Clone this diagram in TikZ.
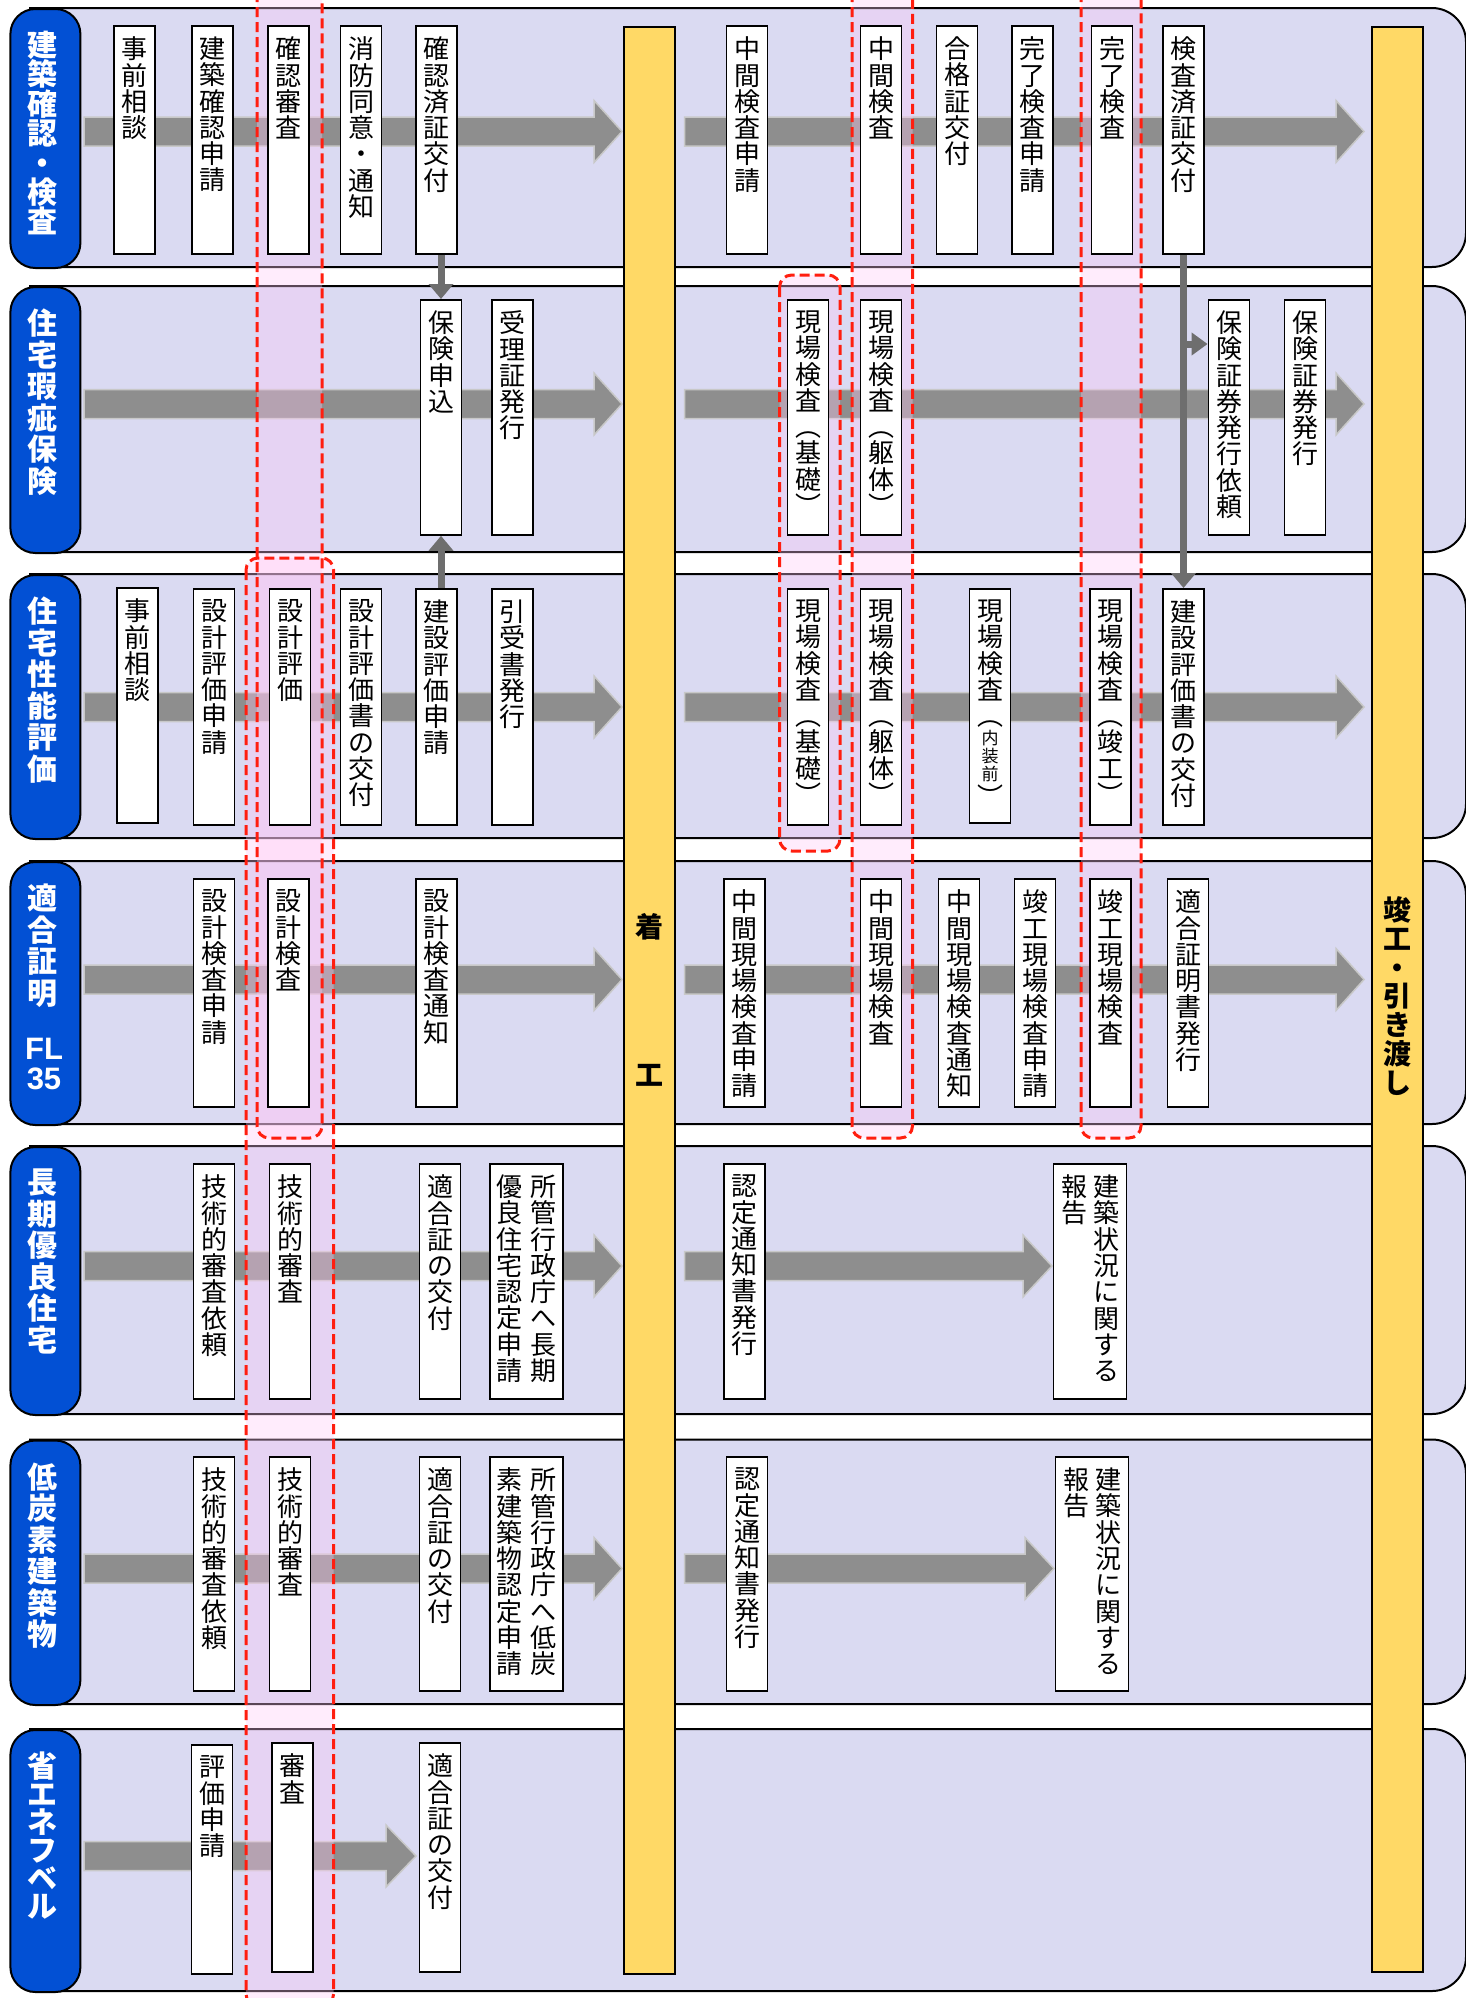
\documentclass[tikz,border=0pt]{standalone}
\usepackage{fontspec}
\setmainfont{Noto Sans CJK JP}
\newfontfamily\lsans{Liberation Sans}
\usetikzlibrary{arrows.meta,calc}
\definecolor{bandc}{RGB}{218,218,242}
\definecolor{labc}{RGB}{2,80,212}
\definecolor{yelc}{RGB}{255,217,102}
\definecolor{arrc}{RGB}{142,142,142}
\definecolor{arre}{RGB}{200,200,200}
\definecolor{conc}{RGB}{110,110,110}
\definecolor{redc}{RGB}{255,30,15}
\definecolor{pinkc}{RGB}{255,200,245}
\makeatletter
\newcommand\vstk[2][1.01]{\vtop{\baselineskip=#1em\lineskiplimit=-100pt\lineskip=0pt\vst@#2\vst@end}}
\def\vst@#1{\ifx#1\vst@end\else\hbox to 1em{\hss#1\hss}\expandafter\vst@\fi}
\def\vst@end{\vst@end@}
\makeatother
\newcommand\bxt[2]{\vbox to #1pt{\kern 11pt\hbox{#2}\vss}}
\newcommand\labt[3]{\vbox to #1pt{\kern 22pt\hbox{\vstk[#2]{#3}\kern5pt}\vss}}
\newcommand\barr[4]{\path[bigarr] (#1,#4-14.5) -- (#2,#4-14.5) -- (#2,#4-31) -- (#3,#4) -- (#2,#4+31) -- (#2,#4+14.5) -- (#1,#4+14.5) -- cycle;}
\tikzset{
 bx/.style={draw=black, line width=1.8pt, fill=white, inner sep=0pt, minimum width=41pt, anchor=north, font=\fontsize{26}{27}\selectfont},
 wbx/.style={bx, minimum width=73pt},
 lab/.style={draw=black, line width=2pt, fill=labc, rounded corners=25pt, inner sep=0pt, minimum width=70pt, anchor=north west, font=\fontsize{30}{31}\selectfont\bfseries, text=white},
 band/.style={draw=black, line width=2pt, fill=bandc},
 ybar/.style={draw=black, line width=2pt, fill=yelc, inner sep=0pt, anchor=north west},
 bartxt/.style={inner sep=0pt, font=\fontsize{28}{28}\selectfont\bfseries},
 conn/.style={draw=conc, line width=7pt, -{Triangle[length=15pt,width=24pt]}},
 pinkcol/.style={fill=pinkc, fill opacity=0.35, rounded corners=12pt},
 redcol/.style={draw=redc, line width=3pt, dash pattern=on 10pt off 5pt, rounded corners=12pt},
 bigarr/.style={fill=arrc, draw=arre, line width=1.5pt},
}
\begin{document}
\begin{tikzpicture}[x=1pt,y=-1pt]
\useasboundingbox (0,0) rectangle (1466,1998);
% bands
\foreach \t/\b in {8/267, 286/552, 574/838, 861/1124, 1146/1414, 1439.5/1704, 1729/1991}{
 \path[band] (30,\t) -- (1432,\t) arc[start angle=-90,end angle=0,radius=34] -- (1466,\b-34) arc[start angle=0,end angle=90,radius=34] -- (30,\b) -- cycle;
}
% labels
\node[lab] (lab1) at (9.4,8) {\labt{259}{0.98}{建築確認・検査}};
\node[lab] (lab2) at (9.4,286) {\labt{266}{1.05}{住宅瑕疵保険}};
\node[lab] (lab3) at (9.4,574) {\labt{264}{1.05}{住宅性能評価}};
\node[lab] (lab4) at (9.4,861) {\labt{263}{1.05}{適合証明}};
\node[lab] (lab5) at (9.4,1146) {\labt{268}{1.05}{長期優良住宅}};
\node[lab] (lab6) at (9.4,1439.5) {\labt{264.5}{1.05}{低炭素建築物}};
\node[lab] (lab7) at (9.4,1729) {\labt{262}{0.93}{省エネフベル}};
\node[font=\lsans\bfseries\fontsize{31}{30}\selectfont, text=white, inner sep=0pt, anchor=base] (fl35) at (44,1059) {\vtop{\baselineskip=30pt\hbox to 40pt{\hss FL\hss}\hbox to 40pt{\hss 35\hss}}};
% big arrows
\barr{84}{594}{622}{131.5}
\barr{684.5}{1336}{1364}{131.5}
\barr{84}{594}{622}{404}
\barr{684.5}{1336}{1364}{404}
\barr{84}{594}{622}{707}
\barr{684.5}{1336}{1364}{707}
\barr{84}{594}{622}{979.5}
\barr{684.5}{1336}{1364}{979.5}
\barr{84}{594}{622}{1266}
\barr{684.5}{1023}{1052}{1266}
\barr{84}{594}{622}{1568.5}
\barr{684.5}{1025}{1054}{1568.5}
\barr{84}{386}{416}{1856}
% pink columns
\fill[pinkcol] (257,-20) rectangle (322,1138);
\fill[pinkcol] (246,558) rectangle (333.6,2006);
\fill[pinkcol] (852,-20) rectangle (912.5,1138);
\fill[pinkcol] (1081,-20) rectangle (1141,1138);
\fill[pinkcol] (779.6,275) rectangle (840,851);
% yellow bars
\node[ybar, minimum width=51pt, minimum height=1947pt] (kou) at (623,26) {};
\node[ybar, minimum width=51pt, minimum height=1945pt] (kan) at (1370.5,26) {};
\node[bartxt] (kout) at (kou.center |- 0,1000) {\vstk[5.27]{着工}};
\node[bartxt] (kant) at (kan.center |- 0,996) {\vstk[1.03]{竣工・引き渡し}};
% band 1 boxes
\node[bx] (b1a) at (134.5,25) {\bxt{228}{\vstk{事前相談}}};
\node[bx] (b1b) at (212.8,25) {\bxt{228}{\vstk{建築確認申請}}};
\node[bx] (b1c) at (288.5,25) {\bxt{228}{\vstk{確認審査}}};
\node[bx] (b1d) at (361,25) {\bxt{228}{\vstk{消防同意・通知}}};
\node[bx] (b1e) at (436.5,25) {\bxt{228}{\vstk{確認済証交付}}};
\node[bx] (b1f) at (747,25) {\bxt{228}{\vstk{中間検査申請}}};
\node[bx] (b1g) at (881,25) {\bxt{228}{\vstk{中間検査}}};
\node[bx] (b1h) at (957,25) {\bxt{228}{\vstk{合格証交付}}};
\node[bx] (b1i) at (1032.6,25) {\bxt{228}{\vstk{完了検査申請}}};
\node[bx] (b1j) at (1112,25) {\bxt{228}{\vstk{完了検査}}};
\node[bx] (b1k) at (1183.5,25) {\bxt{228}{\vstk{検査済証交付}}};
% band 2 boxes
\node[bx] (b2a) at (441,299) {\bxt{235}{\vstk{保険申込}}};
\node[bx] (b2b) at (512.5,299) {\bxt{235}{\vstk{受理証発行}}};
\node[bx] (b2c) at (808,299) {\bxt{235}{\vstk{現場検査︵基礎︶}}};
\node[bx] (b2d) at (881,299) {\bxt{235}{\vstk{現場検査︵躯体︶}}};
\node[bx] (b2e) at (1229,299) {\bxt{235}{\vstk{保険証券発行依頼}}};
\node[bx] (b2f) at (1305,299) {\bxt{235}{\vstk{保険証券発行}}};
% band 3 boxes
\node[bx] (b3a) at (137.5,587) {\bxt{235}{\vstk{事前相談}}};
\node[bx] (b3b) at (214,588) {\bxt{236}{\vstk{設計評価申請}}};
\node[bx] (b3c) at (290,588) {\bxt{236}{\vstk{設計評価}}};
\node[bx] (b3d) at (361,588) {\bxt{236}{\vstk{設計評価書の交付}}};
\node[bx] (b3e) at (436.5,588) {\bxt{236}{\vstk{建設評価申請}}};
\node[bx] (b3f) at (512.5,588) {\bxt{236}{\vstk{引受書発行}}};
\node[bx] (b3g) at (808,588) {\bxt{236}{\vstk{現場検査︵基礎︶}}};
\node[bx] (b3h) at (881,588) {\bxt{236}{\vstk{現場検査︵躯体︶}}};
\node[bx] (b3i) at (990,588) {\bxt{234}{\vtop{\offinterlineskip\hbox{\vstk{現場検査︵}}\kern3pt\hbox to 1em{\hss\fontsize{17}{18}\selectfont\vstk[1.06]{内装前}\hss}\kern3pt\hbox{\vstk{︶}}}}};
\node[bx] (b3j) at (1110.5,588) {\bxt{236}{\vstk{現場検査︵竣工︶}}};
\node[bx] (b3k) at (1183.5,588) {\bxt{236}{\vstk{建設評価書の交付}}};
% band 4 boxes
\node[bx] (b4a) at (214,878) {\bxt{228}{\vstk{設計検査申請}}};
\node[bx] (b4b) at (288.5,878) {\bxt{228}{\vstk{設計検査}}};
\node[bx] (b4c) at (436.5,878) {\bxt{228}{\vstk{設計検査通知}}};
\node[bx] (b4d) at (744.5,878) {\bxt{228}{\vstk{中間現場検査申請}}};
\node[bx] (b4e) at (881,878) {\bxt{228}{\vstk{中間現場検査}}};
\node[bx] (b4f) at (959,878) {\bxt{228}{\vstk{中間現場検査通知}}};
\node[bx] (b4g) at (1035,878) {\bxt{228}{\vstk{竣工現場検査申請}}};
\node[bx] (b4h) at (1110.5,878) {\bxt{228}{\vstk{竣工現場検査}}};
\node[bx] (b4i) at (1188,878) {\bxt{228}{\vstk{適合証明書発行}}};
% band 5 boxes
\node[bx] (b5a) at (214,1163) {\bxt{235}{\vstk{技術的審査依頼}}};
\node[bx] (b5b) at (290,1163) {\bxt{235}{\vstk{技術的審査}}};
\node[bx] (b5c) at (440,1163) {\bxt{235}{\vstk{適合証の交付}}};
\node[wbx] (b5d) at (526.5,1163) {\bxt{235}{\vstk{優良住宅認定申請}\kern8pt\vstk{所管行政庁へ長期}}};
\node[bx] (b5e) at (744.5,1163) {\bxt{235}{\vstk{認定通知書発行}}};
\node[wbx] (b5f) at (1090,1163) {\bxt{235}{\vstk{報告}\kern6pt\vstk{建築状況に関する}}};
% band 6 boxes
\node[bx] (b6a) at (214,1456) {\bxt{234}{\vstk{技術的審査依頼}}};
\node[bx] (b6b) at (290,1456) {\bxt{234}{\vstk{技術的審査}}};
\node[bx] (b6c) at (440,1456) {\bxt{234}{\vstk{適合証の交付}}};
\node[wbx] (b6d) at (526.5,1456) {\bxt{234}{\vstk{素建築物認定申請}\kern8pt\vstk{所管行政庁へ低炭}}};
\node[bx] (b6e) at (747,1456) {\bxt{234}{\vstk{認定通知書発行}}};
\node[wbx] (b6f) at (1092,1456) {\bxt{234}{\vstk{報告}\kern6pt\vstk{建築状況に関する}}};
% band 7 boxes
\node[bx] (b7a) at (212,1744) {\bxt{229}{\vstk{評価申請}}};
\node[bx] (b7b) at (292.5,1742) {\bxt{229}{\vstk{審査}}};
\node[bx] (b7c) at (440,1742) {\bxt{229}{\vstk{適合証の交付}}};
% connectors
\draw[conn] (b2a.north |- b1e.south) -- (b2a.north);
\draw[conn] (b2a.south |- b3e.north) -- (b2a.south);
\draw[conn] (b1k.south) -- (b3k.north);
\coordinate (br) at ($(b2e.north west)+(0,45)$);
\draw[conn, -{Triangle[length=16pt,width=22pt]}] (br -| b1k.south) -- (br);
% red dashed outlines
\draw[redcol] (257,-20) rectangle (322,1138);
\draw[redcol] (246,558) rectangle (333.6,2006);
\draw[redcol] (852,-20) rectangle (912.5,1138);
\draw[redcol] (1081,-20) rectangle (1141,1138);
\draw[redcol] (779.6,275) rectangle (840,851);
\end{tikzpicture}
\end{document}
